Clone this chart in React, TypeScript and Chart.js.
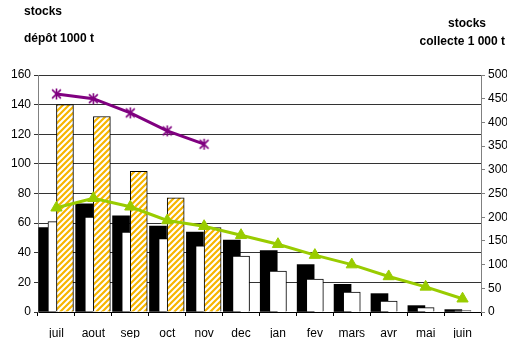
import React, { useEffect, useRef } from "react";
import { Chart, registerables } from "chart.js";

Chart.register(...registerables);

const categories = ["juil", "aout", "sep", "oct", "nov", "dec", "jan", "fev", "mars", "avr", "mai", "juin"];
// left axis (stocks dépôt, 1000 t)
const depotBlack = [57, 73, 65, 58, 54, 48.5, 41.5, 32, 18.7, 12.4, 4.3, 1.6];
const depotWhite = [61, 64, 54, 49.6, 44.6, 37.7, 27.7, 22.3, 13.5, 7.4, 3, 1];
const depotHatched = [140, 132, 95, 77, 57];
// right axis (stocks collecte, 1 000 t)
const collectePurple = [460, 450, 420, 382, 354];
const collecteGreen = [220, 240, 222, 193, 181, 162, 143, 120, 100, 75, 53, 28];
const leftTicks = { min: 0, max: 160, step: 20 };
const rightTicks = { min: 0, max: 500, step: 50 };

function makeHatch(): CanvasPattern | string {
  const c = document.createElement("canvas");
  c.width = 6;
  c.height = 6;
  const g = c.getContext("2d");
  if (!g) return "#FFC000";
  g.fillStyle = "#ffffff";
  g.fillRect(0, 0, 6, 6);
  g.strokeStyle = "#F7B500";
  g.lineWidth = 2.2;
  g.beginPath();
  g.moveTo(-1, 7); g.lineTo(7, -1);
  g.moveTo(-4, 4); g.lineTo(4, -4);
  g.moveTo(2, 10); g.lineTo(10, 2);
  g.stroke();
  const p = g.createPattern(c, "repeat");
  return p || "#FFC000";
}

function makeStar(): HTMLCanvasElement {
  const s = 13;
  const c = document.createElement("canvas");
  c.width = s;
  c.height = s;
  const g = c.getContext("2d");
  if (g) {
    g.strokeStyle = "#800080";
    g.lineWidth = 1.6;
    const m = s / 2;
    const r = 5.5;
    g.beginPath();
    g.moveTo(m, m - r); g.lineTo(m, m + r);
    g.moveTo(m - r * 0.8, m - r * 0.8); g.lineTo(m + r * 0.8, m + r * 0.8);
    g.moveTo(m + r * 0.8, m - r * 0.8); g.lineTo(m - r * 0.8, m + r * 0.8);
    g.stroke();
  }
  return c;
}

export default function App() {
  const ref = useRef<HTMLCanvasElement | null>(null);

  useEffect(() => {
    if (!ref.current) return;
    const hatch = makeHatch();
    const star = makeStar();
    const offs = [-0.25, 0, 0.23];
    const font = { family: "'Liberation Sans', Arial, sans-serif", size: 12 };

    const chart = new Chart(ref.current, {
      type: "bar",
      data: {
        datasets: [
          {
            type: "line",
            label: "collecte 1",
            data: collectePurple.map((v, i) => ({ x: i, y: v })),
            xAxisID: "xb",
            yAxisID: "y1",
            borderColor: "#800080",
            borderWidth: 3,
            pointStyle: star as any,
            pointRadius: 6,
            order: 0,
          },
          {
            type: "line",
            label: "collecte 2",
            data: collecteGreen.map((v, i) => ({ x: i, y: v })),
            xAxisID: "xb",
            yAxisID: "y1",
            borderColor: "#99CC00",
            backgroundColor: "#99CC00",
            borderWidth: 3,
            pointStyle: "triangle",
            pointRadius: 6.5,
            pointBorderWidth: 1,
            order: 1,
          },
          {
            type: "bar",
            label: "dépôt 3",
            data: depotHatched.map((v, i) => ({ x: i + offs[2], y: v })),
            xAxisID: "xb",
            yAxisID: "y",
            backgroundColor: hatch as any,
            borderColor: "#000",
            borderWidth: 1,
            barThickness: 17,
            grouped: false,
            order: 2,
          },
          {
            type: "bar",
            label: "dépôt 2",
            data: depotWhite.map((v, i) => ({ x: i + offs[1], y: v })),
            xAxisID: "xb",
            yAxisID: "y",
            backgroundColor: "#fff",
            borderColor: "#000",
            borderWidth: 1,
            barThickness: 17,
            grouped: false,
            order: 3,
          },
          {
            type: "bar",
            label: "dépôt 1",
            data: depotBlack.map((v, i) => ({ x: i + offs[0], y: v })),
            xAxisID: "xb",
            yAxisID: "y",
            backgroundColor: "#000",
            borderColor: "#000",
            borderWidth: 0,
            barThickness: 17,
            grouped: false,
            order: 4,
          },
        ] as any,
      },
      options: {
        animation: false,
        responsive: false,
        maintainAspectRatio: false,
        layout: { padding: { top: 75, left: 0, right: 0, bottom: 0 } },
        plugins: { legend: { display: false }, tooltip: { enabled: false }, title: { display: false } },
        scales: {
          x: {
            type: "category",
            labels: categories,
            position: "bottom",
            offset: true,
            grid: { offset: true, drawOnChartArea: false, drawTicks: true, tickLength: 4, color: "#000" },
            border: { color: "#000", width: 1 },
            ticks: { color: "#000", font, padding: 10, maxRotation: 0, autoSkip: false },
            afterFit: (s: any) => { s.height = 26; },
          },
          xb: {
            type: "linear",
            display: false,
            offset: false,
            bounds: "ticks",
            min: -0.5,
            max: categories.length - 0.5,
          },
          y: {
            type: "linear",
            position: "left",
            min: leftTicks.min,
            max: leftTicks.max,
            ticks: { stepSize: leftTicks.step, color: "#000", font, padding: 3 },
            grid: { color: "#333333", tickLength: 4, lineWidth: 1 },
            border: { color: "#808080", width: 1 },
            afterFit: (s: any) => { s.width = 38; },
          },
          y1: {
            type: "linear",
            position: "right",
            min: rightTicks.min,
            max: rightTicks.max,
            ticks: { stepSize: rightTicks.step, color: "#000", font, padding: 3 },
            grid: { drawOnChartArea: false, color: "#808080", tickLength: 4 },
            border: { color: "#808080", width: 1 },
            afterFit: (s: any) => { s.width = 26; },
          },
        },
      } as any,
    });
    return () => chart.destroy();
  }, []);

  const titleStyle: React.CSSProperties = {
    position: "absolute",
    fontFamily: "'Liberation Sans', Arial, sans-serif",
    fontWeight: "bold",
    fontSize: 12,
    color: "#000",
    whiteSpace: "nowrap",
    lineHeight: "14px",
  };

  return (
    <div style={{ position: "fixed", left: 0, top: 0, width: 507, height: 338, background: "#fff" }}>
      <canvas ref={ref} width={507} height={338} style={{ position: "absolute", left: 0, top: 0, width: 507, height: 338 }} />
      <div style={{ ...titleStyle, left: 24, top: 4 }}>stocks</div>
      <div style={{ ...titleStyle, left: 24, top: 31 }}>dépôt 1000 t</div>
      <div style={{ ...titleStyle, left: 448, top: 16 }}>stocks</div>
      <div style={{ ...titleStyle, right: 2, top: 34, textAlign: "right" }}>collecte 1 000 t</div>
    </div>
  );
}
